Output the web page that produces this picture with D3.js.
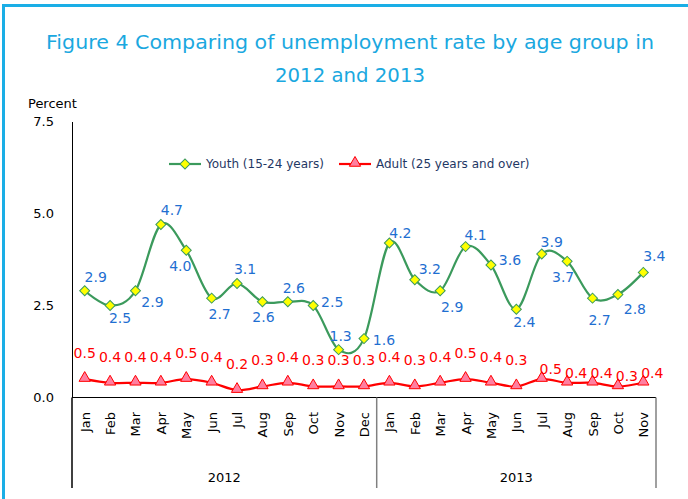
<!DOCTYPE html>
<html>
<head>
<meta charset="utf-8">
<script src="https://cdn.jsdelivr.net/npm/d3@7"></script>
<style>
  body { margin: 0; background: #fff; }
  svg { display: block; font-family: "DejaVu Sans", Verdana, sans-serif; }
</style>
</head>
<body>
<script>
// data
var months = ['Jan','Feb','Mar','Apr','May','Jun','Jul','Aug','Sep','Oct','Nov','Dec',
              'Jan','Feb','Mar','Apr','May','Jun','Jul','Aug','Sep','Oct','Nov'];
var years = ['2012','2013'];
var yearCounts = [12, 11];
var youth = [2.9,2.5,2.9,4.7,4.0,2.7,3.1,2.6,2.6,2.5,1.3,1.6,
             4.2,3.2,2.9,4.1,3.6,2.4,3.9,3.7,2.7,2.8,3.4];
var adult = [0.5,0.4,0.4,0.4,0.5,0.4,0.2,0.3,0.4,0.3,0.3,0.3,
             0.4,0.3,0.4,0.5,0.4,0.3,0.5,0.4,0.4,0.3,0.4];
var yTicks = [0, 2.5, 5.0, 7.5];

// label placement (offset from the point), like the hand-moved excel labels
var youthLab = [[11,-14],[10,13],[17,11],[11,-14],[-6,16],[8,16],[8,-14],[1,15],[6,-14],[19,-3],[2,-14],[20,1],
                [11,-10],[15,-11],[12,16],[10,-12],[19,-5],[8,13],[10,-12],[-4,16],[7,22],[17,15],[11,-16]];
var adultLab = youth.map(function(d,i){ return i < 18 ? [0,-26] : [9,-10]; });

var W = 688, H = 499;
var svg = d3.select('body').append('svg').attr('width', W).attr('height', H);

// outer frame (right/bottom run off the picture)
svg.append('rect').attr('x', 3.5).attr('y', 5.5).attr('width', 700).attr('height', 520)
   .attr('fill', 'none').attr('stroke', '#1aaee6').attr('stroke-width', 3);

// title
svg.append('text').attr('x', 350).attr('y', 49).attr('text-anchor', 'middle')
   .attr('fill', '#1aa8e0').attr('font-size', 20)
   .attr('textLength', 608).attr('lengthAdjust', 'spacingAndGlyphs')
   .text('Figure 4 Comparing of unemployment rate by age group in');
svg.append('text').attr('x', 350).attr('y', 82).attr('text-anchor', 'middle')
   .attr('fill', '#1aa8e0').attr('font-size', 20)
   .attr('textLength', 150).attr('lengthAdjust', 'spacingAndGlyphs')
   .text('2012 and 2013');

var x = d3.scaleBand().domain(d3.range(months.length)).range([72, 656]);
var y = d3.scaleLinear().domain([0, 7.5]).range([397.5, 121.5]);
var cx = function(i){ return x(i) + x.bandwidth() / 2; };

svg.append('text').attr('x', 28).attr('y', 108).attr('font-size', 13).attr('fill', '#000').text('Percent');

// y axis
var yAxis = d3.axisLeft(y).tickValues(yTicks).tickFormat(d3.format('.1f')).tickSize(0).tickPadding(18);
var gy = svg.append('g').attr('transform', 'translate(72,0)').call(yAxis);
gy.select('.domain').attr('stroke', '#000');
gy.selectAll('text').attr('font-size', 13).attr('fill', '#000').attr('font-family', 'DejaVu Sans');

// x axis: line, month labels, year groups
svg.append('line').attr('x1', 72).attr('x2', 656).attr('y1', 397.5).attr('y2', 397.5)
   .attr('stroke', '#000').attr('stroke-width', 1.2);
svg.selectAll('.mon').data(months).enter().append('text')
   .attr('class', 'mon')
   .attr('transform', function(d,i){ return 'translate(' + (cx(i) + 5) + ',412) rotate(-90)'; })
   .attr('text-anchor', 'end').attr('font-size', 13).attr('fill', '#000')
   .text(function(d){ return d; });

var start = 0;
var bounds = [0];
yearCounts.forEach(function(c){ start += c; bounds.push(start); });
svg.selectAll('.div').data(bounds).enter().append('line')
   .attr('x1', function(b){ return b === 0 ? 72 : x(b - 1) + x.bandwidth(); })
   .attr('x2', function(b){ return b === 0 ? 72 : x(b - 1) + x.bandwidth(); })
   .attr('y1', 397.5).attr('y2', 488)
   .attr('stroke', function(b){ return b === 0 ? '#000' : '#808080'; }).attr('stroke-width', 1.5);
svg.selectAll('.yr').data(years).enter().append('text')
   .attr('x', function(d,i){
      var a = x(bounds[i]), b = x(bounds[i+1] - 1) + x.bandwidth();
      return (a + b) / 2; })
   .attr('y', 482).attr('text-anchor', 'middle').attr('font-size', 13).attr('fill', '#000')
   .text(function(d){ return d; });

// lines
var line = function(vals){
  return d3.line().x(function(d,i){ return cx(i); }).y(function(d){ return y(d); })
           .curve(d3.curveCatmullRom.alpha(0))(vals);
};
svg.append('path').attr('d', line(youth)).attr('fill', 'none')
   .attr('stroke', '#3b9a5c').attr('stroke-width', 2.2);
svg.append('path').attr('d', line(adult)).attr('fill', 'none')
   .attr('stroke', '#ff0000').attr('stroke-width', 2.2);

var diamond = d3.symbol().type(d3.symbolSquare).size(50);
var tri = d3.symbol().type(d3.symbolTriangle).size(55);

svg.selectAll('.yp').data(youth).enter().append('path')
   .attr('d', diamond())
   .attr('transform', function(d,i){ return 'translate(' + cx(i) + ',' + y(d) + ') rotate(45)'; })
   .attr('fill', '#ffff00').attr('stroke', '#3b9a5c').attr('stroke-width', 1);
svg.selectAll('.ap').data(adult).enter().append('path')
   .attr('d', tri())
   .attr('transform', function(d,i){ return 'translate(' + cx(i) + ',' + (y(d) - 1) + ')'; })
   .attr('fill', '#ff7fa0').attr('stroke', '#ff0000').attr('stroke-width', 1);

// data labels
svg.selectAll('.yl').data(youth).enter().append('text')
   .attr('x', function(d,i){ return cx(i) + youthLab[i][0]; })
   .attr('y', function(d,i){ return y(d) + youthLab[i][1]; })
   .attr('dy', '0.35em').attr('text-anchor', 'middle')
   .attr('font-size', 14).attr('fill', '#1f6fd1')
   .text(function(d){ return d.toFixed(1); });
svg.selectAll('.al').data(adult).enter().append('text')
   .attr('x', function(d,i){ return cx(i) + adultLab[i][0]; })
   .attr('y', function(d,i){ return y(d) + adultLab[i][1]; })
   .attr('dy', '0.35em').attr('text-anchor', 'middle')
   .attr('font-size', 14).attr('fill', '#ff0000')
   .text(function(d){ return d.toFixed(1); });

// legend
var leg = svg.append('g').attr('font-size', 12).attr('fill', '#1f3864');
leg.append('line').attr('x1', 169).attr('x2', 201).attr('y1', 164).attr('y2', 164)
   .attr('stroke', '#3b9a5c').attr('stroke-width', 2.2);
leg.append('path').attr('d', diamond()).attr('transform', 'translate(185,164) rotate(45)')
   .attr('fill', '#ffff00').attr('stroke', '#3b9a5c');
leg.append('text').attr('x', 206).attr('y', 168).text('Youth (15-24 years)');
leg.append('line').attr('x1', 339).attr('x2', 371).attr('y1', 164).attr('y2', 164)
   .attr('stroke', '#ff0000').attr('stroke-width', 2.2);
leg.append('path').attr('d', tri()).attr('transform', 'translate(355,163)')
   .attr('fill', '#ff7fa0').attr('stroke', '#ff0000');
leg.append('text').attr('x', 376).attr('y', 168).text('Adult (25 years and over)');
</script>
</body>
</html>
